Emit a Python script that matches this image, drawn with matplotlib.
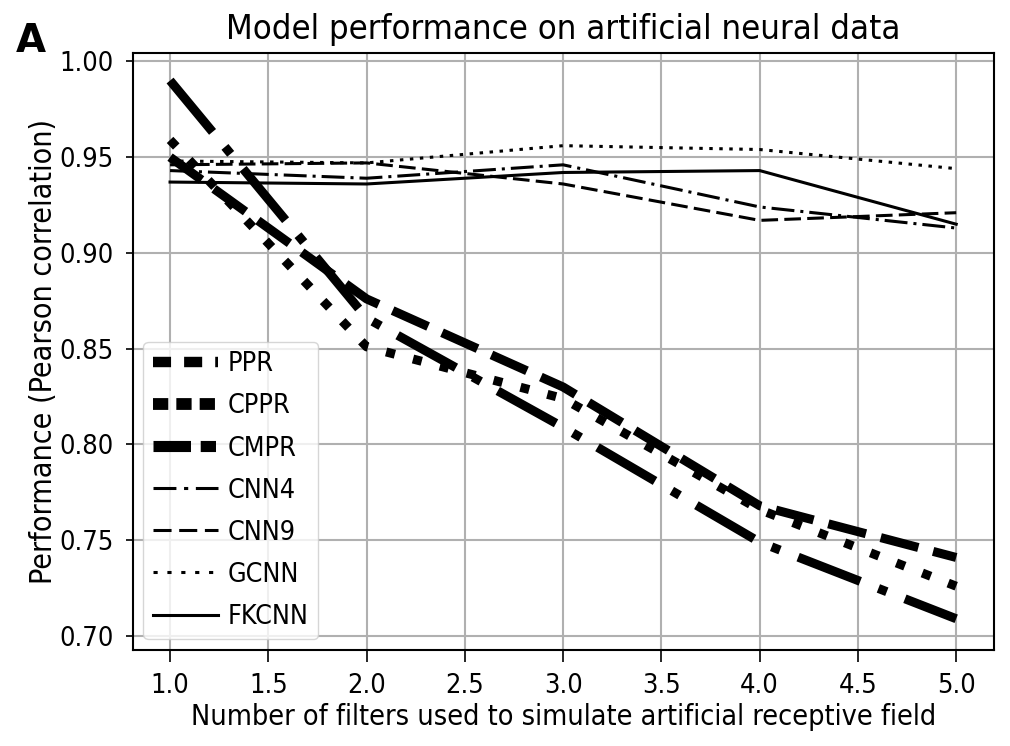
import matplotlib
matplotlib.use("Agg")
import matplotlib.pyplot as plt
from matplotlib.lines import Line2D

# filters used for the artificial receptive field
n_filters = [1, 2, 3, 4, 5]

ppr = [0.950, 0.876, 0.830, 0.768, 0.741]
cppr = [0.959, 0.851, 0.824, 0.766, 0.726]
cmpr = [0.990, 0.866, 0.809, 0.749, 0.709]
cnn4 = [0.943, 0.939, 0.946, 0.924, 0.913]
cnn9 = [0.946, 0.947, 0.936, 0.917, 0.921]
gcnn = [0.948, 0.947, 0.956, 0.954, 0.944]
fkcnn = [0.937, 0.936, 0.942, 0.943, 0.915]

names = ["PPR", "CPPR", "CMPR", "CNN4", "CNN9", "GCNN", "FKCNN"]

plt.rcParams["lines.scale_dashes"] = False
plt.rcParams["font.family"] = "DejaVu Sans"
plt.rcParams["font.stretch"] = "condensed"

fig = plt.figure(figsize=(10.1, 7.46), dpi=100)
ax = fig.add_axes([0.1314, 0.1287, 0.8523, 0.8003])

thick = 6.5
thin = 2.2
ax.plot(n_filters, ppr, color="k", lw=thick, linestyle=(0, (28, 11)), dash_capstyle="butt")
ax.plot(n_filters, cppr, color="k", lw=thick, linestyle=(0, (6.5, 13.5)), dash_capstyle="butt")
ax.plot(n_filters, cmpr, color="k", lw=thick, linestyle=(0, (48, 14, 6.5, 14)), dash_capstyle="butt")
ax.plot(n_filters, cnn4, color="k", lw=thin, linestyle=(0, (16.5, 4.3, 2.2, 4.3)), dash_capstyle="butt")
ax.plot(n_filters, cnn9, color="k", lw=thin, linestyle=(0, (12, 4.5)), dash_capstyle="butt")
ax.plot(n_filters, gcnn, color="k", lw=thin, linestyle=(0, (2.5, 4.7)), dash_capstyle="butt")
ax.plot(n_filters, fkcnn, color="k", lw=thin, linestyle="-")

# legend handles (the legend swatches use shorter dashes than the plotted lines)
handles = [
    Line2D([], [], color="k", lw=7.5, linestyle=(0, (13, 9.4)), dash_capstyle="butt"),
    Line2D([], [], color="k", lw=8.5, linestyle=(0, (11, 5.8)), dash_capstyle="butt"),
    Line2D([], [], color="k", lw=8, linestyle=(0, (27, 7, 11, 7)), dash_capstyle="butt"),
    Line2D([], [], color="k", lw=thin, linestyle=(0, (16.5, 5.5, 3, 5.5)), dash_capstyle="butt"),
    Line2D([], [], color="k", lw=thin, linestyle=(0, (13, 5.5)), dash_capstyle="butt"),
    Line2D([], [], color="k", lw=thin, linestyle=(0, (3, 7)), dash_capstyle="butt"),
    Line2D([], [], color="k", lw=thin, linestyle="-"),
]
ax.legend(handles, names, loc="lower left", fontsize=19.3, handlelength=2.45,
          handletextpad=0.35, labelspacing=0.6, borderaxespad=0.4, borderpad=0.35)

ax.set_xlim(0.81, 5.19)
ax.set_ylim(0.6927, 1.0044)
ax.set_xticks([1.0, 1.5, 2.0, 2.5, 3.0, 3.5, 4.0, 4.5, 5.0])
ax.set_yticks([0.70, 0.75, 0.80, 0.85, 0.90, 0.95, 1.00])
ax.set_yticklabels(["0.70", "0.75", "0.80", "0.85", "0.90", "0.95", "1.00"])
ax.grid(True, color="#b0b0b0", lw=1.5)
ax.set_axisbelow(True)
ax.tick_params(labelsize=19.5, width=1.2)
ax.tick_params(axis="x", length=8.5, pad=8)
ax.tick_params(axis="y", length=5, pad=9)
for s in ax.spines.values():
    s.set_linewidth(1.5)

ax.set_title("Model performance on artificial neural data", fontsize=24.8, pad=10)
ax.set_xlabel("Number of filters used to simulate artificial receptive field", fontsize=20.6, labelpad=3)
ax.set_ylabel("Performance (Pearson correlation)", fontsize=21.8, labelpad=1)
fig.text(0.016, 0.93, "A", fontsize=28, fontweight="bold", fontstretch="normal")

fig.savefig("out.png", dpi=100)
